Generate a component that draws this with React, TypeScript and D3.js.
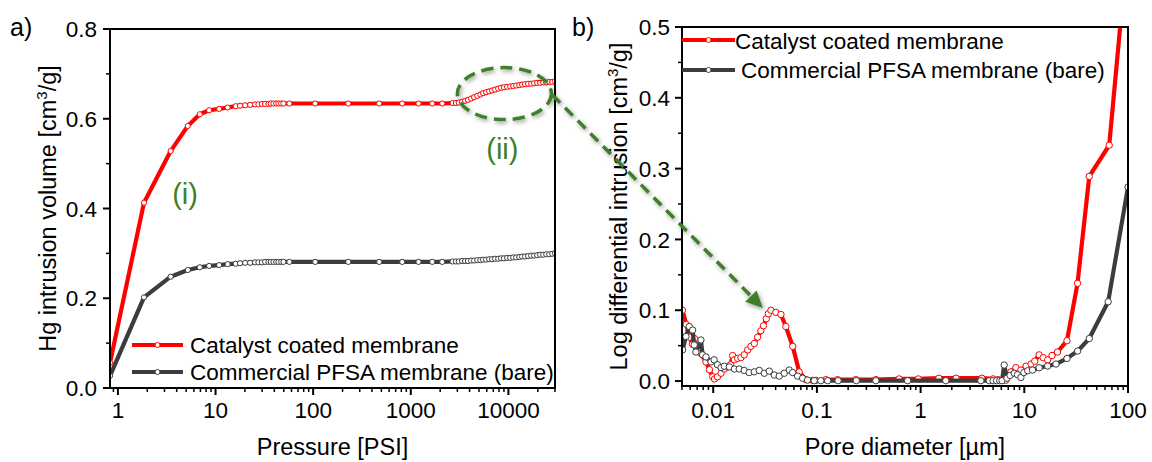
import React from "react";
import * as d3 from "d3";

// ---------- Data ----------
const pressurePsi = [
  0.83, 1.85, 3.47, 5.2, 6.9, 8.6, 10.9, 13.3,
  16.1, 17.8, 20.1, 22.6, 25.4, 27.5, 29.8, 32.2, 34.8, 36.8, 39.2, 41.8, 44.1, 47, 49.6, 57.1,
  105, 229, 475, 817, 1200, 1660, 2100, 2680,
  2900, 3100, 3350, 3600, 3850, 4150, 4450, 4800, 5150, 5500, 5900, 6350, 6800, 7300, 7850, 8400,
  9000, 9700, 10400, 11200, 12000, 12900, 13800, 14800, 15900, 17100, 18300, 19700, 21100, 22700,
  24400, 26200, 28100, 30000,
];
const ccmVolume = [
  0.056, 0.413, 0.528, 0.584, 0.61, 0.619, 0.622, 0.625,
  0.628, 0.629, 0.63, 0.631, 0.632, 0.632, 0.633, 0.633, 0.633, 0.634, 0.634, 0.634, 0.634, 0.634, 0.634, 0.634,
  0.634, 0.634, 0.634, 0.634, 0.634, 0.634, 0.634, 0.635,
  0.635, 0.636, 0.638, 0.64, 0.642, 0.645, 0.648, 0.651, 0.654, 0.657, 0.659, 0.661, 0.663, 0.665, 0.667, 0.669,
  0.67, 0.671, 0.672, 0.673, 0.674, 0.675, 0.676, 0.677, 0.678, 0.678, 0.679, 0.68, 0.68, 0.681,
  0.681, 0.682, 0.682, 0.683,
];
const pfsaVolume = [
  0.027, 0.202, 0.248, 0.263, 0.269, 0.272, 0.274, 0.276,
  0.277, 0.278, 0.279, 0.279, 0.28, 0.28, 0.28, 0.281, 0.281, 0.281, 0.281, 0.281, 0.281, 0.281, 0.281, 0.281,
  0.281, 0.281, 0.281, 0.281, 0.281, 0.281, 0.281, 0.282,
  0.282, 0.282, 0.283, 0.283, 0.283, 0.284, 0.284, 0.285, 0.285, 0.286, 0.286, 0.287, 0.287, 0.288, 0.288, 0.289,
  0.289, 0.29, 0.29, 0.291, 0.291, 0.292, 0.293, 0.293, 0.294, 0.295, 0.295, 0.296, 0.297, 0.297,
  0.298, 0.298, 0.299, 0.3,
];

const ccmDiam = [
  0.00505, 0.0055, 0.0059, 0.0063, 0.0066, 0.007, 0.0076, 0.0085, 0.0092, 0.0099, 0.0103, 0.011, 0.0119,
  0.0128, 0.0138, 0.0147, 0.0154, 0.016, 0.0172, 0.0185, 0.0199, 0.0215, 0.0231, 0.0249, 0.0268, 0.0288,
  0.0305, 0.0325, 0.034, 0.036, 0.0402, 0.045, 0.0502, 0.0584, 0.0675, 0.0783, 0.0909, 0.098, 0.122, 0.158,
  0.237, 0.37, 0.62, 0.95, 1.5, 2.2, 3.9, 5.0, 5.6, 6.2, 6.6, 7.43, 8.3, 9.27, 10.4, 11.6, 12.6, 13.9, 15.2,
  16.8, 18.5, 20.9, 25.8, 32.6, 42.3, 65.9, 100,
];
const ccmLogDiff = [
  0.1, 0.08, 0.062, 0.052, 0.06, 0.045, 0.039, 0.027, 0.016, 0.006, 0.003, 0.006, 0.011,
  0.017, 0.02, 0.023, 0.036, 0.03, 0.032, 0.033, 0.037, 0.044, 0.049, 0.053, 0.062, 0.071,
  0.078, 0.088, 0.095, 0.1, 0.097, 0.094, 0.077, 0.049, 0.013, 0.002, 0.001, 0.001, 0.002, 0.002,
  0.002, 0.002, 0.003, 0.003, 0.004, 0.004, 0.004, 0.003, 0.002, 0.001, 0.001, 0.013, 0.019, 0.0155, 0.021, 0.024, 0.028, 0.037, 0.033,
  0.03, 0.036, 0.041, 0.057, 0.138, 0.289, 0.333, 0.62,
];
const pfsaDiam = [
  0.00507, 0.00546, 0.00588, 0.00633, 0.00656, 0.00681, 0.00761, 0.0079, 0.00851, 0.00951, 0.0102, 0.011,
  0.0119, 0.0128, 0.0143, 0.016, 0.0178, 0.0199, 0.0222, 0.0249, 0.0278, 0.0311, 0.0347, 0.0388, 0.0433,
  0.0484, 0.0541, 0.0583, 0.0651, 0.0728, 0.0813, 0.0942, 0.109, 0.127, 0.16, 0.24, 0.37, 0.75, 1.75, 3.81,
  4.6, 5.0, 5.4, 5.8, 6.1, 6.4, 6.8, 7.3, 8.0, 8.6, 9.27, 9.9, 10.8, 12.0, 13.9, 16.8, 20.2, 25.8, 32.7,
  42.3, 64.4, 100,
];
const pfsaLogDiff = [
  0.044, 0.063, 0.077, 0.072, 0.051, 0.041, 0.058, 0.037, 0.034, 0.027, 0.03, 0.023,
  0.019, 0.021, 0.02, 0.017, 0.017, 0.015, 0.012, 0.013, 0.015, 0.011, 0.014, 0.0085, 0.007,
  0.011, 0.0155, 0.012, 0.007, 0.004, 0.0014, 0.0005, 0.0005, 0.0005, 0.0005, 0.0005, 0.0005, 0.0005, 0.0005, 0.0005,
  0.0005, 0.0005, 0.0005, 0.0005, 0.0005, 0.0226, 0.004, 0.008, 0.011, 0.009, 0.005, 0.012, 0.0145, 0.0155, 0.0188,
  0.0212, 0.024, 0.032, 0.0424, 0.06, 0.112, 0.274,
];

const seriesNames = ["Catalyst coated membrane", "Commercial PFSA membrane (bare)"];
const pressureTicks = [1, 10, 100, 1000, 10000];
const volumeTicks = [0, 0.2, 0.4, 0.6, 0.8];
const diamTicks = [0.01, 0.1, 1, 10, 100];
const diffTicks = [0, 0.1, 0.2, 0.3, 0.4, 0.5];

// ---------- Styles ----------
const RED = "#ff0000";
const GRAY = "#3c3c3c";
const GREEN = "#3f7f2a";
const FONT = "'Liberation Sans', Arial, Helvetica, sans-serif";
const FS = 22.5; // ticks and legends
const FT = 23.5; // axis titles

function minorLog(domain: number[], majors: number[]) {
  const [a, b] = domain;
  const out: number[] = [];
  for (let e = Math.floor(Math.log10(a)); e <= Math.ceil(Math.log10(b)); e++) {
    for (let k = 1; k <= 9; k++) {
      const v = k * Math.pow(10, e);
      if (v >= a * 0.9999 && v <= b * 1.0001 && !majors.some((m) => Math.abs(m - v) / v < 1e-6)) out.push(v);
    }
  }
  return out;
}

function Sup3() {
  return (
    <>
      <tspan fontSize={15} dy={-9}>3</tspan>
      <tspan dy={9}>/g]</tspan>
    </>
  );
}

type PanelProps = {
  id: string;
  x: d3.ScaleLogarithmic<number, number>;
  y: d3.ScaleLinear<number, number>;
  xTicks: number[];
  yTicks: number[];
  yMinor: number[];
  yLabelGap: number;
  xTitle: string;
  yTitlePre: string;
  yTitleX: number;
  series: { xs: number[]; ys: number[]; color: string; r: number }[];
};

function Panel(p: PanelProps) {
  const [x0, x1] = p.x.range();
  const [y0, y1] = p.y.range(); // y0 bottom, y1 top
  const xMinor = minorLog(p.x.domain(), p.xTicks);
  const line = d3
    .line<[number, number]>()
    .x((d) => p.x(d[0]))
    .y((d) => p.y(d[1]));
  const cy = (y0 + y1) / 2;
  return (
    <g>
      <defs>
        <clipPath id={p.id}>
          <rect x={x0} y={y1} width={x1 - x0} height={y0 - y1} />
        </clipPath>
      </defs>
      <g clipPath={`url(#${p.id})`}>
        {p.series.map((s, si) => {
          const pts = s.xs.map((v, i) => [v, s.ys[i]] as [number, number]);
          return (
            <g key={si}>
              <path d={line(pts) || ""} fill="none" stroke={s.color} strokeWidth={4.2} strokeLinejoin="round" />
              {pts.map((d, i) => (
                <circle key={i} cx={p.x(d[0])} cy={p.y(d[1])} r={s.r} fill="#fff" stroke={s.color} strokeWidth={1} />
              ))}
            </g>
          );
        })}
      </g>
      {/* frame */}
      <rect x={x0} y={y1} width={x1 - x0} height={y0 - y1} fill="none" stroke="#000" strokeWidth={2} />
      {/* x ticks */}
      {p.xTicks.map((t) => (
        <g key={"xt" + t}>
          <line x1={p.x(t)} x2={p.x(t)} y1={y0} y2={y0 + 7} stroke="#000" strokeWidth={2} />
          <text x={p.x(t)} y={418} textAnchor="middle" fontSize={FS} fontFamily={FONT}>
            {String(t)}
          </text>
        </g>
      ))}
      {xMinor.map((t) => (
        <line key={"xm" + t} x1={p.x(t)} x2={p.x(t)} y1={y0} y2={y0 + 4} stroke="#000" strokeWidth={1.5} />
      ))}
      {/* y ticks */}
      {p.yTicks.map((t) => (
        <g key={"yt" + t}>
          <line x1={x0 - 7} x2={x0} y1={p.y(t)} y2={p.y(t)} stroke="#000" strokeWidth={2} />
          <text x={x0 - p.yLabelGap} y={p.y(t)} dy="0.36em" textAnchor="end" fontSize={FS} fontFamily={FONT}>
            {t.toFixed(1)}
          </text>
        </g>
      ))}
      {p.yMinor.map((t) => (
        <line key={"ym" + t} x1={x0 - 4} x2={x0} y1={p.y(t)} y2={p.y(t)} stroke="#000" strokeWidth={1.5} />
      ))}
      <text x={(x0 + x1) / 2} y={455} textAnchor="middle" fontSize={FT} fontFamily={FONT}>
        {p.xTitle}
      </text>
      <text
        transform={`translate(${p.yTitleX},${cy}) rotate(-90)`}
        textAnchor="middle"
        fontSize={FT}
        fontFamily={FONT}
      >
        {p.yTitlePre}
        <Sup3 />
      </text>
    </g>
  );
}

function Legend({ x1, x2, ys, textXs, baselines }: { x1: number; x2: number; ys: number[]; textXs: number[]; baselines: number[] }) {
  const colors = [RED, GRAY];
  return (
    <g>
      {seriesNames.map((n, i) => (
        <g key={n}>
          <line x1={x1} x2={x2} y1={ys[i]} y2={ys[i]} stroke={colors[i]} strokeWidth={4.2} />
          <circle cx={(x1 + x2) / 2} cy={ys[i]} r={2.5} fill="#fff" stroke={colors[i]} strokeWidth={1} />
          <text x={textXs[i]} y={baselines[i]} fontSize={FS} fontFamily={FONT}>
            {n}
          </text>
        </g>
      ))}
    </g>
  );
}

export default function App() {
  const xL = d3.scaleLog().domain([0.83, 30000]).range([110, 555]);
  const yL = d3.scaleLinear().domain([0, 0.8]).range([388, 29]);
  const xR = d3.scaleLog().domain([0.005, 100]).range([682, 1128]);
  const yR = d3.scaleLinear().domain([-0.007, 0.5]).range([386, 27]);

  // annotation anchors in data coordinates
  const ellC = [xL(9100), yL(0.656)];
  const arrS = [xL(28250), yL(0.653)];
  const arrE = [xR(0.0301), yR(0.103)];
  const ang = Math.atan2(arrE[1] - arrS[1], arrE[0] - arrS[0]);
  const headLen = 17;
  const headW = 8;
  const base = [arrE[0] - headLen * Math.cos(ang), arrE[1] - headLen * Math.sin(ang)];
  const perp = [-Math.sin(ang), Math.cos(ang)];
  const head = [
    arrE,
    [base[0] + headW * perp[0], base[1] + headW * perp[1]],
    [base[0] - headW * perp[0], base[1] - headW * perp[1]],
  ]
    .map((q) => q.join(","))
    .join(" ");

  return (
    <svg width={1152} height={462} style={{ position: "absolute", left: 0, top: 0, background: "#fff" }}>
      <defs>
        <filter id="shadow" x="-30%" y="-30%" width="160%" height="160%">
          <feDropShadow dx={1.5} dy={2} stdDeviation={2.2} floodColor="#000" floodOpacity={0.4} />
        </filter>
      </defs>
      <rect width={1152} height={462} fill="#fff" />

      <Panel
        id="clipL"
        x={xL}
        y={yL}
        xTicks={pressureTicks}
        yTicks={volumeTicks}
        yMinor={[0.1, 0.3, 0.5, 0.7]}
        yLabelGap={13}
        xTitle="Pressure [PSI]"
        yTitlePre="Hg intrusion volume [cm"
        yTitleX={56}
        series={[
          { xs: pressurePsi, ys: pfsaVolume, color: GRAY, r: 2.6 },
          { xs: pressurePsi, ys: ccmVolume, color: RED, r: 2.6 },
        ]}
      />
      <Panel
        id="clipR"
        x={xR}
        y={yR}
        xTicks={diamTicks}
        yTicks={diffTicks}
        yMinor={[0.05, 0.15, 0.25, 0.35, 0.45]}
        yLabelGap={12}
        xTitle="Pore diameter [µm]"
        yTitlePre="Log differential intrusion [cm"
        yTitleX={627}
        series={[
          { xs: ccmDiam, ys: ccmLogDiff, color: RED, r: 3.2 },
          { xs: pfsaDiam, ys: pfsaLogDiff, color: GRAY, r: 3.2 },
        ]}
      />

      <Legend x1={132} x2={183} ys={[345, 372]} textXs={[190, 190]} baselines={[353, 380]} />
      <Legend x1={682} x2={735} ys={[40, 70]} textXs={[735, 741]} baselines={[49, 78]} />

      {/* panel labels */}
      <text x={10} y={36} fontSize={25} fontFamily={FONT}>a)</text>
      <text x={572} y={36} fontSize={25} fontFamily={FONT}>b)</text>

      {/* annotations */}
      <text x={xL(4.87)} y={yL(0.41)} textAnchor="middle" fontSize={29} fontFamily={FONT} fill={GREEN}>(i)</text>
      <text x={xL(8670)} y={yL(0.51)} textAnchor="middle" fontSize={29} fontFamily={FONT} fill={GREEN}>(ii)</text>
      <g filter="url(#shadow)">
        <ellipse cx={ellC[0]} cy={ellC[1]} rx={47} ry={26} fill="none" stroke={GREEN} strokeWidth={3.5} strokeDasharray="12 7" />
        <line x1={arrS[0]} y1={arrS[1]} x2={base[0]} y2={base[1]} stroke={GREEN} strokeWidth={3.5} strokeDasharray="11 7" />
        <polygon points={head} fill={GREEN} />
      </g>
    </svg>
  );
}
